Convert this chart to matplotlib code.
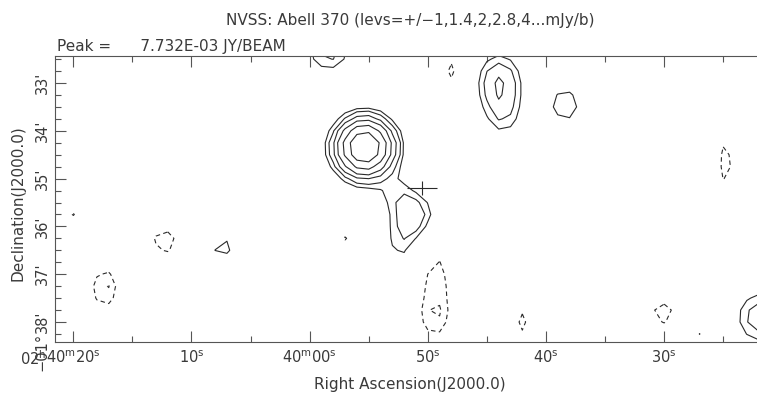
import numpy as np
import matplotlib
matplotlib.use("Agg")
import matplotlib.pyplot as plt

# Gaussian components: RA seconds past 02h39m, Dec arcmin below -01deg, peak mJy/beam, sigmas in arcsec
src_ra = [55.35, 55.20, 50.96, 52.30, 52.73, 58.39, 43.94, 43.60, 38.36, 21.88, 27.0, 67.35,
          48.0, 24.67, 72.26, 77.33, 80.0, 57.0, 49.35, 49.52, 30.08, 42.0]
src_dec = [34.34, 34.45, 35.77, 36.45, 35.30, 32.31, 32.98, 33.75, 33.46, 37.90, 38.25, 36.43,
           32.75, 34.67, 36.31, 37.29, 35.75, 36.25, 37.37, 37.87, 37.81, 38.0]
src_peak = [7.40, 0.60, 1.9, 1.05, 0.75, 1.65, 2.05, 1.0, 1.35, 1.80, 1.04, 1.18,
            -1.2, -1.2, -1.3, -1.5, -1.06, -1.1, -1.3, -0.45, -1.25, -1.2]
src_sig_ra = [22.6, 40.0, 21.0, 18.0, 15.0, 22.6, 21.5, 19.0, 20.0, 24.0, 8.0, 19.0,
              12.0, 14.0, 19.0, 16.0, 10.0, 11.0, 20.7, 11.3, 19.0, 11.0]
src_sig_dec = [22.6, 40.0, 22.0, 28.0, 15.0, 22.6, 27.4, 22.0, 22.6, 26.0, 8.0, 19.0,
               20.0, 43.0, 19.0, 23.5, 10.0, 11.0, 62.8, 11.3, 19.0, 20.0]

levels = [-1.4, -1.0, 1.0, 1.4, 2.0, 2.8, 4.0, 5.6]
cross_ra = [50.53]
cross_dec = [35.20]

xtick_vals = [80, 70, 60, 50, 40, 30]
xtick_labels = ["40$^{\\mathrm{m}}$20$^{\\mathrm{s}}$", "10$^{\\mathrm{s}}$",
                "40$^{\\mathrm{m}}$00$^{\\mathrm{s}}$", "50$^{\\mathrm{s}}$",
                "40$^{\\mathrm{s}}$", "30$^{\\mathrm{s}}$"]
ytick_vals = [33, 34, 35, 36, 37, 38]
ytick_labels = ["33'", "34'", "35'", "36'", "37'", "38'"]

title = "NVSS: Abell 370 (levs=+/\u22121,1.4,2,2.8,4...mJy/b)"
peak_text = "Peak =      7.732E-03 JY/BEAM"

# ---------------- figure ----------------
W, H = 757, 395
fig = plt.figure(figsize=(W / 100, H / 100), dpi=100)
ax = fig.add_axes([55 / W, (H - 342) / H, (757 - 55) / W, (342 - 56) / H])

# 15 arcsec map pixels (1 s of RA, 0.25 arcmin of Dec)
ra = np.arange(15.0, 90.0, 1.0)
dec = np.arange(31.0, 40.0, 0.25)
RA, DEC = np.meshgrid(ra, dec)
field = np.zeros_like(RA)
for r0, d0, p, sx, sy in zip(src_ra, src_dec, src_peak, src_sig_ra, src_sig_dec):
    field += p * np.exp(-0.5 * ((((RA - r0) * 15.0) / sx) ** 2 + (((DEC - d0) * 60.0) / sy) ** 2))

ls = [(0, (4, 3)) if lv < 0 else "-" for lv in levels]
ax.contour(RA, DEC, field, levels=levels, colors="#2a2a2a", linewidths=0.8, linestyles=ls)

ax.plot(cross_ra, cross_dec, marker="_", ms=21, mew=0.8, color="#2a2a2a", ls="none")
ax.plot(cross_ra, cross_dec, marker="|", ms=9.5, mew=0.8, color="#2a2a2a", ls="none")

ax.set_xlim(81.55, 22.14)
ax.set_ylim(38.418, 32.435)

gray = "#555555"
txt = "#3a3a3a"
ax.set_xticks(xtick_vals)
ax.set_xticklabels(xtick_labels, fontsize=10.5, color=txt)
ax.set_xticks(np.arange(25, 81, 5), minor=True)
ax.set_yticks(ytick_vals)
ax.set_yticklabels(ytick_labels, fontsize=10.5, color=txt, rotation=90, va="center")
ax.set_yticks(np.arange(32.5, 38.5, 0.25), minor=True)
ax.tick_params(which="both", direction="in", top=True, bottom=True, left=True, right=False,
               color=gray, width=0.8)
ax.tick_params(which="major", length=8)
ax.tick_params(which="minor", length=4)
ax.tick_params(axis="x", pad=5)
ax.tick_params(axis="y", pad=4)
for s in ["left", "bottom", "top"]:
    ax.spines[s].set_color(gray)
    ax.spines[s].set_linewidth(0.8)
ax.spines["right"].set_visible(False)

fig.text(410 / W, 1 - 21 / H, title, ha="center", va="center", fontsize=11, color=txt)
fig.text(57 / W, 1 - 47 / H, peak_text, ha="left", va="center", fontsize=11, color=txt)
fig.text(410 / W, 1 - 384 / H, "Right Ascension(J2000.0)", ha="center", va="center", fontsize=11, color=txt)
fig.text(18 / W, 1 - 203 / H, "Declination(J2000.0)", ha="center", va="center", rotation=90, fontsize=11, color=txt)

# prefixes for first RA label and last Dec label
fig.canvas.draw()
r = fig.canvas.get_renderer()
bx = ax.get_xticklabels()[0].get_window_extent(r)
fig.text(bx.x0 / W, bx.y1 / H, "02$^{\\mathrm{h}}$", ha="right", va="top", fontsize=10.5, color=txt)
by = ax.get_yticklabels()[-1].get_window_extent(r)
fig.text((by.x0 + by.x1) / 2 / W, by.y0 / H, "\u221201\u00b0", ha="right", va="center",
         rotation=90, rotation_mode="anchor", fontsize=10.5, color=txt)

fig.savefig("out.png", dpi=100)
